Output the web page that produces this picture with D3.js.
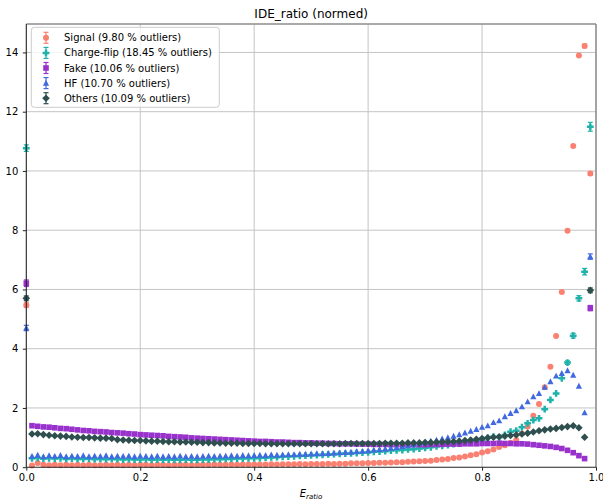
<!DOCTYPE html>
<html>
<head>
<meta charset="utf-8">
<script src="https://cdn.jsdelivr.net/npm/d3@7/dist/d3.min.js"></script>
<style>
  html, body { margin: 0; padding: 0; background: #fff; }
  svg text { font-family: "DejaVu Sans", sans-serif; fill: #000; }
</style>
</head>
<body>
<svg id="chart" width="603" height="500"></svg>
<script>
// Bin positions of E_ratio (left edge of each of the 100 bins)
const binX = d3.range(100).map(i => i / 100);

// Normalised counts per bin
const signal = [
  5.47, 0.06, 0.14, 0.08, 0.07, 0.08, 0.07, 0.08, 0.07, 0.08,
  0.07, 0.08, 0.07, 0.07, 0.08, 0.07, 0.08, 0.07, 0.08, 0.07,
  0.08, 0.08, 0.07, 0.08, 0.08, 0.07, 0.08, 0.08, 0.08, 0.07,
  0.08, 0.08, 0.08, 0.09, 0.08, 0.08, 0.09, 0.08, 0.09, 0.09,
  0.09, 0.09, 0.09, 0.10, 0.09, 0.10, 0.10, 0.10, 0.11, 0.10,
  0.11, 0.11, 0.11, 0.12, 0.11, 0.12, 0.12, 0.13, 0.13, 0.13,
  0.14, 0.14, 0.15, 0.15, 0.16, 0.17, 0.17, 0.18, 0.19, 0.20,
  0.21, 0.22, 0.24, 0.26, 0.28, 0.31, 0.33, 0.36, 0.40, 0.44,
  0.50, 0.54, 0.60, 0.68, 0.74, 0.82, 0.92, 1.14, 1.37, 1.74,
  2.13, 2.70, 3.39, 4.43, 5.91, 7.98, 10.84, 13.90, 14.22, 9.91
];
const chargeFlip = [
  10.77, 0.30, 0.31, 0.29, 0.30, 0.29, 0.30, 0.28, 0.29, 0.28,
  0.28, 0.29, 0.27, 0.28, 0.27, 0.28, 0.27, 0.26, 0.27, 0.26,
  0.26, 0.27, 0.25, 0.26, 0.25, 0.26, 0.25, 0.25, 0.26, 0.25,
  0.25, 0.26, 0.26, 0.27, 0.27, 0.28, 0.28, 0.29, 0.29, 0.30,
  0.30, 0.31, 0.32, 0.33, 0.34, 0.35, 0.36, 0.37, 0.38, 0.39,
  0.40, 0.41, 0.42, 0.43, 0.44, 0.45, 0.46, 0.47, 0.48, 0.49,
  0.50, 0.52, 0.53, 0.54, 0.56, 0.57, 0.58, 0.60, 0.61, 0.63,
  0.65, 0.67, 0.70, 0.72, 0.75, 0.78, 0.80, 0.84, 0.88, 0.90,
  0.93, 0.99, 1.03, 1.01, 1.09, 1.20, 1.23, 1.35, 1.48, 1.59,
  1.65, 1.96, 2.27, 2.49, 3.00, 3.53, 4.44, 5.70, 6.60, 11.49
];
const fake = [
  6.21, 1.40, 1.38, 1.36, 1.35, 1.33, 1.31, 1.30, 1.28, 1.26,
  1.24, 1.23, 1.21, 1.20, 1.19, 1.17, 1.16, 1.15, 1.13, 1.12,
  1.10, 1.09, 1.08, 1.07, 1.06, 1.04, 1.03, 1.02, 1.01, 0.99,
  0.98, 0.97, 0.96, 0.95, 0.94, 0.93, 0.92, 0.91, 0.90, 0.89,
  0.88, 0.87, 0.87, 0.86, 0.85, 0.85, 0.84, 0.83, 0.83, 0.82,
  0.82, 0.81, 0.81, 0.80, 0.80, 0.79, 0.79, 0.79, 0.78, 0.78,
  0.78, 0.77, 0.77, 0.77, 0.76, 0.76, 0.76, 0.76, 0.76, 0.76,
  0.76, 0.77, 0.77, 0.77, 0.78, 0.78, 0.78, 0.79, 0.79, 0.79,
  0.80, 0.80, 0.80, 0.81, 0.80, 0.80, 0.79, 0.79, 0.78, 0.76,
  0.74, 0.72, 0.70, 0.67, 0.63, 0.57, 0.49, 0.39, 0.29, 5.37
];
const hf = [
  4.70, 0.37, 0.41, 0.36, 0.39, 0.37, 0.40, 0.36, 0.38, 0.37,
  0.39, 0.36, 0.38, 0.37, 0.39, 0.36, 0.38, 0.37, 0.38, 0.36,
  0.38, 0.37, 0.36, 0.38, 0.36, 0.37, 0.36, 0.38, 0.36, 0.37,
  0.36, 0.37, 0.38, 0.37, 0.38, 0.38, 0.39, 0.38, 0.40, 0.39,
  0.40, 0.41, 0.40, 0.42, 0.41, 0.42, 0.43, 0.43, 0.44, 0.44,
  0.45, 0.46, 0.46, 0.47, 0.48, 0.49, 0.50, 0.51, 0.53, 0.54,
  0.56, 0.58, 0.60, 0.62, 0.64, 0.67, 0.70, 0.73, 0.76, 0.80,
  0.84, 0.88, 0.92, 0.96, 1.00, 1.05, 1.10, 1.16, 1.22, 1.28,
  1.35, 1.40, 1.51, 1.57, 1.71, 1.82, 1.91, 2.04, 2.21, 2.38,
  2.49, 2.70, 2.89, 3.08, 3.17, 3.26, 3.11, 2.74, 1.84, 7.11
];
const others = [
  5.70, 1.12, 1.13, 1.10, 1.08, 1.06, 1.05, 1.04, 1.02, 1.01,
  1.00, 1.00, 0.99, 0.98, 0.98, 0.97, 0.93, 0.92, 0.91, 0.90,
  0.90, 0.89, 0.88, 0.88, 0.87, 0.86, 0.86, 0.85, 0.85, 0.84,
  0.84, 0.83, 0.83, 0.82, 0.82, 0.81, 0.81, 0.81, 0.80, 0.80,
  0.80, 0.80, 0.79, 0.79, 0.79, 0.79, 0.79, 0.79, 0.79, 0.79,
  0.79, 0.79, 0.79, 0.79, 0.79, 0.79, 0.80, 0.80, 0.80, 0.80,
  0.80, 0.80, 0.80, 0.81, 0.81, 0.81, 0.81, 0.82, 0.82, 0.82,
  0.83, 0.83, 0.84, 0.85, 0.86, 0.87, 0.88, 0.90, 0.92, 0.94,
  0.97, 0.99, 1.01, 1.03, 1.05, 1.07, 1.09, 1.12, 1.15, 1.19,
  1.23, 1.26, 1.29, 1.31, 1.34, 1.37, 1.40, 1.33, 1.01, 5.97
];

// Statistical uncertainties large enough to show: [bin index, error]
const signalErr = [[0, 0.08], [98, 0.06], [99, 0.06]];
const chargeFlipErr = [[0, 0.11], [95, 0.06], [96, 0.08], [97, 0.09], [98, 0.11], [99, 0.15]];
const fakeErr = [[0, 0.11], [99, 0.09]];
const hfErr = [[0, 0.09], [99, 0.09]];
const othersErr = [[0, 0.08], [99, 0.08]];

const seriesNames = ["Signal", "Charge-flip", "Fake", "HF", "Others"];
const outlierPct = ["9.80", "18.45", "10.06", "10.70", "10.09"];
const seriesColors = ["#fa8072", "#20b2aa", "#9932cc", "#4169e1", "#2f4f4f"];
const seriesMarkers = ["circle", "plus", "square", "triangle", "diamond"];
const seriesValues = [signal, chargeFlip, fake, hf, others];
const seriesErrors = [signalErr, chargeFlipErr, fakeErr, hfErr, othersErr];

const xTicks = [0, 0.2, 0.4, 0.6, 0.8, 1.0];
const yTicks = [0, 2, 4, 6, 8, 10, 12, 14];

const svg = d3.select("#chart");
const plot = { left: 26.3, right: 596, top: 24, bottom: 467.2 };

const x = d3.scaleLinear().domain([0, 1]).range([plot.left, plot.right]);
const y = d3.scaleLinear().domain([0, 14.96]).range([plot.bottom, plot.top]);

// Marker outlines, centred on the origin
function markerPath(kind) {
  switch (kind) {
    case "circle": return d3.symbol(d3.symbolCircle, Math.PI * 3.0 * 3.0)();
    case "square": return "M-2.8,-2.8H2.8V2.8H-2.8Z";
    case "triangle": return "M0,-3.3L3.1,2.6L-3.1,2.6Z";
    case "diamond": return "M0,-3.8L3.8,0L0,3.8L-3.8,0Z";
    case "plus": {
      const a = 3.4, b = 1.25;
      return `M${-b},${-a}H${b}V${-b}H${a}V${b}H${b}V${a}H${-b}V${b}H${-a}V${-b}H${-b}Z`;
    }
  }
}

// Grid
const grid = svg.append("g");
grid.selectAll(".gx").data(xTicks.slice(1, -1)).join("line")
  .attr("x1", d => x(d)).attr("x2", d => x(d))
  .attr("y1", plot.top).attr("y2", plot.bottom)
  .attr("stroke", "#c4c4c4").attr("stroke-width", 1);
grid.selectAll(".gy").data(yTicks.slice(1)).join("line")
  .attr("x1", plot.left).attr("x2", plot.right)
  .attr("y1", d => y(d)).attr("y2", d => y(d))
  .attr("stroke", "#c4c4c4").attr("stroke-width", 1);

// Data points, drawn in legend order so later series sit on top
const pts = svg.append("g");
seriesValues.forEach((vals, s) => {
  const g = pts.append("g");
  const errs = seriesErrors[s];
  g.selectAll("line.err").data(errs).join("line")
    .attr("x1", d => x(binX[d[0]])).attr("x2", d => x(binX[d[0]]))
    .attr("y1", d => y(vals[d[0]] - d[1])).attr("y2", d => y(vals[d[0]] + d[1]))
    .attr("stroke", seriesColors[s]).attr("stroke-width", 1.2);
  errs.forEach(d => {
    [vals[d[0]] - d[1], vals[d[0]] + d[1]].forEach(v => {
      g.append("line")
        .attr("x1", x(binX[d[0]]) - 2.5).attr("x2", x(binX[d[0]]) + 2.5)
        .attr("y1", y(v)).attr("y2", y(v))
        .attr("stroke", seriesColors[s]).attr("stroke-width", 1.2);
    });
  });
  g.selectAll("path").data(vals).join("path")
    .attr("d", markerPath(seriesMarkers[s]))
    .attr("transform", (d, i) => `translate(${x(binX[i])},${y(d)})`)
    .attr("fill", seriesColors[s]);
});

// Frame: dark left/bottom spines, grey top/right
svg.append("line").attr("x1", plot.left).attr("x2", plot.right)
  .attr("y1", plot.top).attr("y2", plot.top).attr("stroke", "#8c8c8c").attr("stroke-width", 1.6);
svg.append("line").attr("x1", plot.right).attr("x2", plot.right)
  .attr("y1", plot.top).attr("y2", plot.bottom).attr("stroke", "#8c8c8c").attr("stroke-width", 1.6);

// Axes
const xAxis = d3.axisBottom(x).tickValues(xTicks).tickFormat(d3.format(".1f")).tickSizeOuter(0).tickSize(3.5).tickPadding(3.5);
const yAxis = d3.axisLeft(y).tickValues(yTicks).tickFormat(d3.format("d")).tickSizeOuter(0).tickSize(3.5).tickPadding(4.5);

const gx = svg.append("g").attr("transform", `translate(0,${plot.bottom})`).call(xAxis);
const gy = svg.append("g").attr("transform", `translate(${plot.left},0)`).call(yAxis);
[gx, gy].forEach(g => {
  g.select(".domain").attr("stroke", "#222").attr("stroke-width", 1.1);
  g.selectAll(".tick line").attr("stroke", "#222");
  g.selectAll(".tick text").attr("font-size", 10).attr("font-family", "DejaVu Sans").attr("fill", "#222");
});
gy.select(".domain").attr("d", `M0,${plot.bottom}V${plot.top}`);
gx.select(".domain").attr("d", `M${plot.left},0H${plot.right}`);

// Title and axis label
svg.append("text").attr("x", (plot.left + plot.right) / 2).attr("y", 17.5)
  .attr("text-anchor", "middle").attr("font-size", 12).text("IDE_ratio (normed)");
const xl = svg.append("text").attr("x", 311).attr("y", 497).attr("text-anchor", "middle");
xl.append("tspan").attr("font-style", "italic").attr("font-size", 10).text("E");
xl.append("tspan").attr("font-style", "italic").attr("font-size", 7).attr("dy", 2).text("ratio");

// Legend
const legend = svg.append("g");
legend.append("rect").attr("x", 31.3).attr("y", 27.3).attr("width", 188).attr("height", 80)
  .attr("rx", 3).attr("fill", "#fff").attr("fill-opacity", 0.8)
  .attr("stroke", "#cccccc").attr("stroke-width", 1);
seriesNames.forEach((name, s) => {
  const cy = 37.8 + s * 15.1;
  const row = legend.append("g").attr("transform", `translate(46,${cy})`);
  row.append("line").attr("x1", 0).attr("x2", 0).attr("y1", -5.5).attr("y2", 5.5)
    .attr("stroke", seriesColors[s]).attr("stroke-width", 1.2);
  [-5.5, 5.5].forEach(v => row.append("line").attr("x1", -2.5).attr("x2", 2.5)
    .attr("y1", v).attr("y2", v).attr("stroke", seriesColors[s]).attr("stroke-width", 1.2));
  row.append("path").attr("d", markerPath(seriesMarkers[s])).attr("fill", seriesColors[s]);
  legend.append("text").attr("x", 64).attr("y", cy).attr("dy", "0.35em")
    .attr("font-size", 10).attr("fill", "#222")
    .text(`${name} (${outlierPct[s]} % outliers)`);
});
</script>
</body>
</html>
